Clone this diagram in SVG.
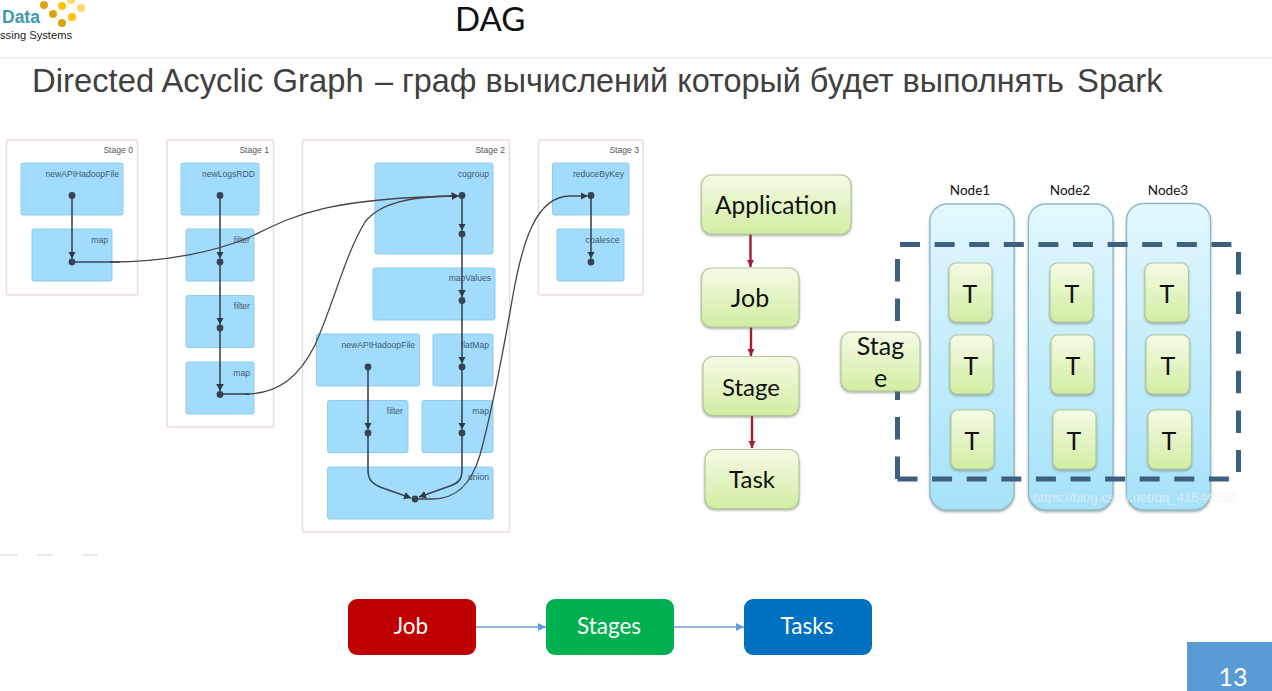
<svg xmlns="http://www.w3.org/2000/svg" width="1272" height="691" viewBox="0 0 1272 691">
<style>
.st{fill:#fff;stroke:#eed9df;stroke-width:1.5}
.rd{fill:#a1dcfd;stroke:#8fcbea;stroke-width:1}
.lb{font:8.600px "Liberation Sans",Arial,sans-serif;fill:#44596c;text-anchor:end}
.sl{font:8.600px "Liberation Sans",Arial,sans-serif;fill:#555;text-anchor:end}
.dot{fill:#39434f}
.e{fill:none;stroke:#3a4653;stroke-width:1.6;marker-end:url(#ah)}
.c{fill:none;stroke:#444;stroke-width:1.3;marker-end:url(#ah)}
.n{fill:none;stroke:#3a4653;stroke-width:1.6}
.g{fill:url(#gg);stroke:#b4c89c;stroke-width:1.2;filter:url(#sh)}
.col{fill:url(#bg);stroke:#8db9c9;stroke-width:1.3;filter:url(#sh)}
.gt{font-family:Lato,"Open Sans",sans-serif;fill:#111;text-anchor:middle}
.dash{fill:none;stroke:#3d607f;stroke-width:5}
.red{stroke:#a11c2c;stroke-width:2.4;fill:none;marker-end:url(#rh)}
.bl{stroke:#6b9fd6;stroke-width:1.3;fill:none;marker-end:url(#bh)}
.bt{font:22.500px Lato,"Open Sans",sans-serif;fill:#fff;text-anchor:middle}
</style>
<defs>
<marker id="ah" markerUnits="userSpaceOnUse" markerWidth="8" markerHeight="8" refX="7" refY="4" orient="auto"><path d="M0 0.200L7 4L0 7.800Z" fill="#2f3a46"/></marker>
<marker id="rh" markerUnits="userSpaceOnUse" markerWidth="8" markerHeight="8" refX="7" refY="4" orient="auto"><path d="M0 0.500L7 4L0 7.500Z" fill="#a11c2c"/></marker>
<marker id="bh" markerUnits="userSpaceOnUse" markerWidth="9" markerHeight="8" refX="8" refY="4" orient="auto"><path d="M0 0L8 4L0 8Z" fill="#5f9bd8"/></marker>
<linearGradient id="gg" x1="0" y1="0" x2="0" y2="1"><stop offset="0" stop-color="#f4fbe6"/><stop offset="1" stop-color="#d2eda2"/></linearGradient>
<linearGradient id="bg" x1="0" y1="0" x2="0" y2="1"><stop offset="0" stop-color="#e2f8fe"/><stop offset="1" stop-color="#a6e2fa"/></linearGradient>
<filter id="sh" x="-15%" y="-15%" width="130%" height="130%"><feDropShadow dx="0" dy="1.500" stdDeviation="1.200" flood-color="#5f6f55" flood-opacity=".55"/></filter>
</defs>
<rect width="1272" height="691" fill="#fff"/>

<g id="logo">
<text x="2" y="23" font-family="Liberation Sans,sans-serif" font-weight="700" font-size="17.500" fill="#3f97b8">Data</text>
<text x="0" y="39" font-family="Liberation Sans,sans-serif" font-size="11.200" fill="#222">ssing Systems</text>
<g fill="#d9a50e"><circle cx="44" cy="5" r="4"/><circle cx="53" cy="14" r="4"/><circle cx="62" cy="23" r="4"/></g>
<g fill="#ffc000"><circle cx="62" cy="6" r="4"/><circle cx="72" cy="17" r="4"/></g>
<g fill="#ffd966"><circle cx="81" cy="8" r="4"/><circle cx="71" cy="0" r="4"/></g>
</g>
<g id="header">
<rect x="0" y="57" width="1272" height="1.200" fill="#ececec"/>
<text x="455" y="31" font-family="Lato,sans-serif" font-size="33" fill="#111">DAG</text>
<text y="92" font-family="Liberation Sans,sans-serif" font-size="32.800" fill="#404040"><tspan x="32">Directed Acyclic Graph</tspan><tspan x="375" font-size="32.400">– граф вычислений который будет выполнять</tspan><tspan x="1077">Spark</tspan></text>
</g>
<g id="cropped-remnant" fill="#e6e6e6"><rect x="0" y="554" width="18" height="2"/><rect x="37" y="554" width="15" height="2"/><rect x="83" y="554" width="15" height="2"/></g>

<g id="stage-0"><rect class="st" x="6.500" y="140" width="131" height="155" rx="2"/><text class="sl" x="133" y="153">Stage 0</text></g>
<g id="stage-1"><rect class="st" x="167" y="140" width="106.500" height="287" rx="2"/><text class="sl" x="269" y="153">Stage 1</text></g>
<g id="stage-2"><rect class="st" x="302.500" y="140" width="207" height="392" rx="2"/><text class="sl" x="505" y="153">Stage 2</text></g>
<g id="stage-3"><rect class="st" x="538.500" y="140" width="104.500" height="155" rx="2"/><text class="sl" x="639" y="153">Stage 3</text></g>

<g id="s0-newAPIHadoopFile"><rect class="rd" x="21" y="163" width="102" height="52" rx="2"/><text class="lb" x="119" y="177">newAPIHadoopFile</text></g>
<g id="s0-map"><rect class="rd" x="32" y="229" width="80" height="52" rx="2"/><text class="lb" x="108" y="243">map</text></g>
<g id="s1-newLogsRDD"><rect class="rd" x="181" y="163" width="78" height="52" rx="2"/><text class="lb" x="255" y="177">newLogsRDD</text></g>
<g id="s1-filter1"><rect class="rd" x="186" y="229" width="68" height="52" rx="2"/><text class="lb" x="250" y="243">filter</text></g>
<g id="s1-filter2"><rect class="rd" x="186" y="295.500" width="68" height="52" rx="2"/><text class="lb" x="250" y="309">filter</text></g>
<g id="s1-map"><rect class="rd" x="186" y="362" width="68" height="52" rx="2"/><text class="lb" x="250" y="376">map</text></g>
<g id="s2-cogroup"><rect class="rd" x="375" y="163" width="118" height="91" rx="2"/><text class="lb" x="489" y="177">cogroup</text></g>
<g id="s2-mapValues"><rect class="rd" x="373" y="268" width="122" height="52" rx="2"/><text class="lb" x="491" y="281">mapValues</text></g>
<g id="s2-newAPIHadoopFile"><rect class="rd" x="316.500" y="334" width="103" height="52" rx="2"/><text class="lb" x="415" y="348">newAPIHadoopFile</text></g>
<g id="s2-flatMap"><rect class="rd" x="433" y="334" width="60" height="52" rx="2"/><text class="lb" x="489" y="348">flatMap</text></g>
<g id="s2-filter"><rect class="rd" x="327.500" y="400.500" width="80.500" height="52" rx="2"/><text class="lb" x="403" y="414">filter</text></g>
<g id="s2-map"><rect class="rd" x="422" y="400.500" width="71" height="52" rx="2"/><text class="lb" x="489" y="414">map</text></g>
<g id="s2-union"><rect class="rd" x="327.500" y="467" width="165.500" height="52" rx="2"/><text class="lb" x="489" y="480">union</text></g>
<g id="s3-reduceByKey"><rect class="rd" x="552.500" y="163" width="76.500" height="52" rx="2"/><text class="lb" x="624" y="177">reduceByKey</text></g>
<g id="s3-coalesce"><rect class="rd" x="557" y="229" width="67" height="52" rx="2"/><text class="lb" x="619.500" y="243">coalesce</text></g>

<g id="connectors">
<path class="e" d="M72 195V258.500"/>
<path class="e" d="M220 195V258.500"/><path class="e" d="M220 262V324.500"/><path class="e" d="M220 328V391"/>
<path class="e" d="M462 196V230.500"/><path class="e" d="M462 234V297"/><path class="e" d="M462 300V363.500"/><path class="e" d="M462 367V429.500"/>
<path class="e" d="M368 367V429.500"/>
<path class="e" d="M591 196V258.500"/>
<path class="e" d="M368 433V470C368 480 372 483 380 487L411 498"/>
<path class="e" d="M462 433V470C462 480 458 483 450 486L419 497"/>
<path class="n" d="M72 262H120"/>
<path class="c" d="M110 262C165 262 215 252 250 237C290 218 320 198 458.500 196"/>
<path class="n" d="M220 394H250"/>
<path class="c" d="M245 394C280 394 300 375 315 345C335 300 345 255 365 222C380 203 410 196 458.500 196"/>
<path class="c" d="M415 499H432C458 499 472 482 480 455C495 400 505 340 513 295C522 245 535 196 570 196H587.500"/>
<g class="dot">
<circle cx="72" cy="195.500" r="3.400"/><circle cx="72" cy="262" r="3.400"/>
<circle cx="220" cy="195.500" r="3.400"/><circle cx="220" cy="262" r="3.400"/><circle cx="220" cy="328" r="3.400"/><circle cx="220" cy="394.500" r="3.400"/>
<circle cx="462" cy="195.500" r="3.400"/><circle cx="462" cy="234" r="3.400"/><circle cx="462" cy="300.500" r="3.400"/><circle cx="462" cy="367" r="3.400"/><circle cx="462" cy="433" r="3.400"/>
<circle cx="368" cy="367" r="3.400"/><circle cx="368" cy="433" r="3.400"/><circle cx="415" cy="499" r="3.400"/>
<circle cx="591" cy="195.500" r="3.400"/><circle cx="591" cy="262" r="3.400"/>
</g>
<path class="red" d="M750.500 234V267"/><path class="red" d="M751 327V356"/><path class="red" d="M752 415V448"/>
<path class="bl" d="M476 627H546"/><path class="bl" d="M674 627H744"/>
</g>

<g id="application"><rect class="g" x="701.500" y="175" width="149.500" height="59" rx="10"/><text class="gt" x="776" y="214" font-size="24.500">Application</text></g>
<g id="job"><rect class="g" x="701.500" y="268" width="97.500" height="59" rx="10"/><text class="gt" x="750" y="307" font-size="25">Job</text></g>
<g id="stage"><rect class="g" x="703" y="356.500" width="96" height="59" rx="10"/><text class="gt" x="751" y="396" font-size="24">Stage</text></g>
<g id="task"><rect class="g" x="705" y="449.500" width="94" height="59" rx="10"/><text class="gt" x="752" y="488" font-size="24">Task</text></g>

<g id="node1"><rect class="col" x="930" y="204" width="84" height="306" rx="17"/><text class="gt" x="970" y="195" font-size="13.500">Node1</text></g>
<g id="node2"><rect class="col" x="1028.500" y="204" width="84.500" height="306" rx="17"/><text class="gt" x="1070" y="195" font-size="13.500">Node2</text></g>
<g id="node3"><rect class="col" x="1126.500" y="203.500" width="84" height="306.500" rx="17"/><text class="gt" x="1168" y="195" font-size="13.500">Node3</text></g>

<g id="stage-frame">
<path class="dash" d="M900 244.500H1232" stroke-dasharray="20 14.600"/>
<path class="dash" d="M1238.500 252V472" stroke-dasharray="22.500 17.100"/>
<path class="dash" d="M897.500 479H1230" stroke-dasharray="20 14.600"/>
<path class="dash" d="M897.500 259V479" stroke-dasharray="22.500 17"/>
</g>

<g id="t11"><rect class="g" x="949" y="263" width="43" height="59" rx="7"/><text class="gt" x="970" y="303" font-size="25">T</text></g>
<g id="t12"><rect class="g" x="950" y="335" width="43" height="59" rx="7"/><text class="gt" x="971" y="375" font-size="25">T</text></g>
<g id="t13"><rect class="g" x="951" y="410" width="43" height="59" rx="7"/><text class="gt" x="972" y="450" font-size="25">T</text></g>
<g id="t21"><rect class="g" x="1050" y="263" width="43" height="59" rx="7"/><text class="gt" x="1072" y="303" font-size="25">T</text></g>
<g id="t22"><rect class="g" x="1051" y="335" width="43" height="59" rx="7"/><text class="gt" x="1073" y="375" font-size="25">T</text></g>
<g id="t23"><rect class="g" x="1053" y="410" width="43" height="59" rx="7"/><text class="gt" x="1074" y="450" font-size="25">T</text></g>
<g id="t31"><rect class="g" x="1145" y="263" width="43.500" height="59" rx="7"/><text class="gt" x="1167" y="303" font-size="25">T</text></g>
<g id="t32"><rect class="g" x="1146" y="335" width="43.500" height="59" rx="7"/><text class="gt" x="1168" y="375" font-size="25">T</text></g>
<g id="t33"><rect class="g" x="1148" y="410" width="43.500" height="59" rx="7"/><text class="gt" x="1169" y="450" font-size="25">T</text></g>

<g id="stage-tag"><rect class="g" x="841" y="332" width="79" height="59" rx="10"/><text class="gt" x="880.500" y="355" font-size="25">Stag</text><text class="gt" x="880.500" y="387" font-size="25">e</text></g>
<text id="watermark" x="1033" y="502" font-family="Liberation Sans,sans-serif" font-size="13.200" fill="#fff" fill-opacity=".55" stroke="#c8d2d6" stroke-opacity=".35" stroke-width=".4">https://blog.csdn.net/qq_41644550</text>

<g id="flow-job"><rect x="348" y="599" width="128" height="56" rx="9" fill="#c00000"/><text class="bt" x="411" y="634">Job</text></g>
<g id="flow-stages"><rect x="546" y="599" width="128" height="56" rx="9" fill="#00b050"/><text class="bt" x="609" y="634">Stages</text></g>
<g id="flow-tasks"><rect x="744" y="599" width="128" height="56" rx="9" fill="#0070c0"/><text class="bt" x="807" y="634">Tasks</text></g>

<g id="page-number"><rect x="1187" y="642" width="85" height="49" fill="#5b9bd5"/><text x="1233" y="685.500" font-family="Lato,sans-serif" font-size="25" fill="#fff" text-anchor="middle">13</text></g>
</svg>
